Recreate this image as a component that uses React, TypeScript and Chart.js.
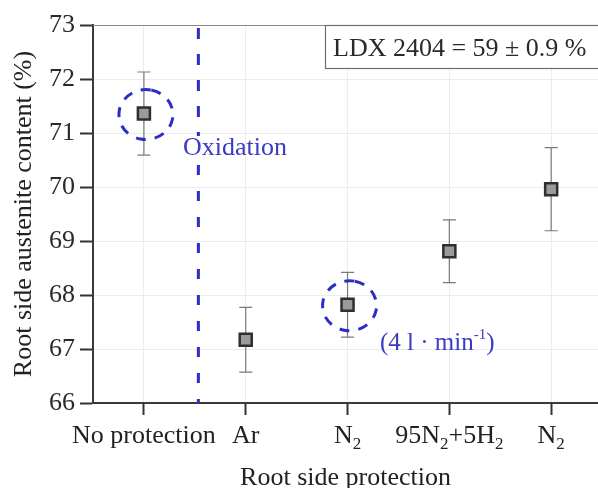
import React, { useEffect, useRef } from 'react';
import { Chart, registerables } from 'chart.js';

Chart.register(...registerables);

// ---- data ----
const categories = ['No protection', 'Ar', 'N₂', '95N₂+5H₂', 'N₂'];
const means = [71.36, 67.17, 67.82, 68.81, 69.96];
const errors = [0.77, 0.6, 0.6, 0.58, 0.77];
const yTicks = [66, 67, 68, 69, 70, 71, 72, 73];
const highlighted = [0, 2];
const dividerAt = 0.535;
const xTitle = 'Root side protection';
const yTitle = 'Root side austenite content (%)';
const boxText = 'LDX 2404 = 59 ± 0.9 %';
const dividerLabel = 'Oxidation';
const flowLabel = ['(4 l · min', '-1', ')'];

const FONT = '"Liberation Serif", "Times New Roman", serif';
const BLUE = '#2c2cc6';
const BLUE_TEXT = '#3a3ac2';
const SUBS = '₀₁₂₃₄₅₆₇₈₉';

function drawRich(ctx: CanvasRenderingContext2D, text: string, cx: number, base: number) {
  const segs: { t: string; sub: boolean }[] = [];
  for (const ch of text) {
    const i = SUBS.indexOf(ch);
    const sub = i >= 0;
    const t = sub ? String(i) : ch;
    const last = segs[segs.length - 1];
    if (last && last.sub === sub) last.t += t;
    else segs.push({ t, sub });
  }
  const fontN = `26px ${FONT}`;
  const fontS = `17px ${FONT}`;
  let w = 0;
  for (const s of segs) {
    ctx.font = s.sub ? fontS : fontN;
    w += ctx.measureText(s.t).width;
  }
  let x = cx - w / 2;
  ctx.textAlign = 'left';
  ctx.textBaseline = 'alphabetic';
  for (const s of segs) {
    ctx.font = s.sub ? fontS : fontN;
    ctx.fillText(s.t, x, s.sub ? base + 6 : base);
    x += ctx.measureText(s.t).width;
  }
}

const decorPlugin = {
  id: 'decor',
  beforeDatasetsDraw(chart: any) {
    const ctx = chart.ctx as CanvasRenderingContext2D;
    const xs = chart.scales.x;
    const ys = chart.scales.y;
    const area = chart.chartArea;
    ctx.save();
    // top frame line
    ctx.strokeStyle = '#8a8a8a';
    ctx.lineWidth = 1;
    ctx.beginPath();
    ctx.moveTo(area.left, area.top + 0.5);
    ctx.lineTo(area.right, area.top + 0.5);
    ctx.stroke();
    // error bars
    ctx.strokeStyle = '#7a7a7a';
    ctx.lineWidth = 1.2;
    means.forEach((m, i) => {
      const x = xs.getPixelForValue(i);
      const yt = ys.getPixelForValue(m + errors[i]);
      const yb = ys.getPixelForValue(m - errors[i]);
      ctx.beginPath();
      ctx.moveTo(x, yt);
      ctx.lineTo(x, yb);
      ctx.moveTo(x - 6.5, yt);
      ctx.lineTo(x + 6.5, yt);
      ctx.moveTo(x - 6.5, yb);
      ctx.lineTo(x + 6.5, yb);
      ctx.stroke();
    });
    ctx.restore();
  },
  afterDatasetsDraw(chart: any) {
    const ctx = chart.ctx as CanvasRenderingContext2D;
    const xs = chart.scales.x;
    const ys = chart.scales.y;
    const area = chart.chartArea;
    ctx.save();
    // divider dashed line
    const dx = xs.getPixelForValue(dividerAt);
    ctx.strokeStyle = BLUE;
    ctx.lineWidth = 3;
    ctx.setLineDash([11, 15]);
    ctx.beginPath();
    ctx.moveTo(dx, area.top + 3);
    ctx.lineTo(dx, 136);
    ctx.stroke();
    ctx.setLineDash([10, 16]);
    ctx.beginPath();
    ctx.moveTo(dx, 165);
    ctx.lineTo(dx, area.bottom);
    ctx.stroke();
    // dashed ellipses
    ctx.setLineDash([10, 9]);
    highlighted.forEach((i) => {
      const x = xs.getPixelForValue(i) + 2;
      const y = ys.getPixelForValue(means[i]) + 1;
      ctx.beginPath();
      ctx.ellipse(x, y, 27, 25, 0, -Math.PI / 2 + 0.2, Math.PI * 1.5 + 0.2);
      ctx.stroke();
    });
    ctx.setLineDash([]);
    // texts
    ctx.fillStyle = BLUE_TEXT;
    ctx.font = `26px ${FONT}`;
    ctx.textAlign = 'left';
    ctx.textBaseline = 'alphabetic';
    ctx.fillText(dividerLabel, 183, 155);
    // flow label
    let fx = 380;
    const fb = 350;
    ctx.font = `25px ${FONT}`;
    ctx.fillText(flowLabel[0], fx, fb);
    fx += ctx.measureText(flowLabel[0]).width;
    ctx.font = `15px ${FONT}`;
    ctx.fillText(flowLabel[1], fx, fb - 11);
    fx += ctx.measureText(flowLabel[1]).width;
    ctx.font = `25px ${FONT}`;
    ctx.fillText(flowLabel[2], fx, fb);
    // info box
    ctx.fillStyle = '#ffffff';
    ctx.fillRect(325, area.top, area.right - 325, 43);
    ctx.strokeStyle = '#6e6e6e';
    ctx.lineWidth = 1.2;
    ctx.strokeRect(325.5, area.top + 0.5, area.right - 325 + 5, 43);
    ctx.fillStyle = '#2a2a2a';
    ctx.font = `26px ${FONT}`;
    ctx.fillText(boxText, 333, 56);
    ctx.restore();
  },
  afterDraw(chart: any) {
    const ctx = chart.ctx as CanvasRenderingContext2D;
    const xs = chart.scales.x;
    const area = chart.chartArea;
    ctx.save();
    ctx.fillStyle = '#222222';
    categories.forEach((c, i) => {
      drawRich(ctx, c, xs.getPixelForValue(i), 443);
    });
    ctx.font = `26px ${FONT}`;
    ctx.textAlign = 'center';
    ctx.textBaseline = 'alphabetic';
    ctx.fillText(xTitle, (area.left + area.right) / 2, 485);
    ctx.translate(31, (area.top + area.bottom) / 2);
    ctx.rotate(-Math.PI / 2);
    ctx.fillText(yTitle, 0, 0);
    ctx.restore();
  },
};

export default function App() {
  const ref = useRef<HTMLCanvasElement | null>(null);
  useEffect(() => {
    if (!ref.current) return;
    const chart = new Chart(ref.current, {
      type: 'scatter',
      data: {
        datasets: [
          {
            data: means.map((m, i) => ({ x: i, y: m })),
            pointStyle: 'rect',
            pointRadius: 8.5,
            pointHoverRadius: 8.5,
            backgroundColor: '#9a9a9a',
            borderColor: '#2f2f2f',
            borderWidth: 2.5,
          },
        ],
      },
      plugins: [decorPlugin],
      options: {
        responsive: false,
        animation: false,
        events: [],
        layout: { autoPadding: false, padding: { left: 0, top: 25, right: 0, bottom: 0 } },
        plugins: { legend: { display: false }, tooltip: { enabled: false } },
        scales: {
          x: {
            type: 'linear',
            min: -0.5,
            max: 4.46,
            afterBuildTicks: (s: any) => {
              s.ticks = categories.map((_, i) => ({ value: i }));
            },
            afterFit: (s: any) => {
              s.height = 85;
            },
            ticks: { callback: () => '', font: { size: 1 } },
            grid: {
              color: '#ececec',
              lineWidth: 1,
              tickColor: '#333333',
              tickLength: 12,
              tickWidth: 2,
            },
            border: { color: '#3a3a3a', width: 2 },
          },
          y: {
            min: 66,
            max: 73,
            afterBuildTicks: (s: any) => {
              s.ticks = yTicks.map((v) => ({ value: v }));
            },
            afterFit: (s: any) => {
              s.width = 93;
            },
            ticks: {
              font: { family: FONT, size: 26 },
              color: '#2a2a2a',
              padding: 5,
            },
            grid: {
              color: (c: any) => (c.tick && c.tick.value === 73 ? 'rgba(0,0,0,0)' : '#ececec'),
              lineWidth: 1,
              tickColor: '#333333',
              tickLength: 13,
              tickWidth: 2,
            },
            border: { color: '#3a3a3a', width: 2 },
          },
        },
      },
    });
    return () => chart.destroy();
  }, []);
  return (
    <div style={{ position: 'absolute', left: 0, top: 0, width: 598, height: 488, background: '#fff' }}>
      <canvas ref={ref} width={598} height={488} style={{ display: 'block' }} />
    </div>
  );
}
